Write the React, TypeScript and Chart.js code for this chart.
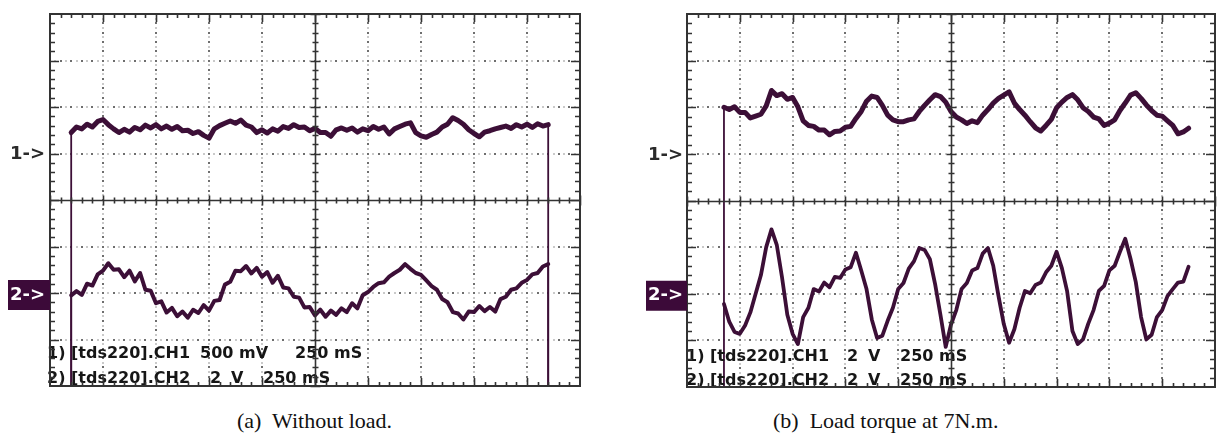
import React, { useEffect, useRef } from 'react';
import { Chart, registerables } from 'chart.js';

Chart.register(...registerables);

// Sampling grid of the traces, in screen divisions
const SAMPLE_STEP = 0.1;
const OFFSCREEN = -4.6; // trace level before trigger / after stop (below screen)

// (a) Without load
const A_START = 0.4;
const A_CH1 = [
  1.45, 1.57, 1.53, 1.63, 1.57, 1.69, 1.73, 1.62, 1.53, 1.45,
  1.52, 1.46, 1.56, 1.51, 1.61, 1.55, 1.62, 1.53, 1.59, 1.52,
  1.58, 1.49, 1.5, 1.43, 1.47, 1.39, 1.33, 1.53, 1.6, 1.65,
  1.7, 1.65, 1.72, 1.61, 1.57, 1.45, 1.51, 1.44, 1.53, 1.48,
  1.58, 1.54, 1.62, 1.56, 1.57, 1.49, 1.54, 1.45, 1.45, 1.37,
  1.51, 1.55, 1.5, 1.55, 1.46, 1.53, 1.49, 1.58, 1.52, 1.57,
  1.42, 1.53, 1.58, 1.63, 1.66, 1.45, 1.38, 1.35, 1.41, 1.46,
  1.57, 1.63, 1.77, 1.71, 1.63, 1.51, 1.43, 1.36, 1.46, 1.49,
  1.53, 1.56, 1.59, 1.54, 1.62, 1.57, 1.63, 1.56, 1.64, 1.59,
  1.62,
];
const A_CH2 = [
  -2.05, -1.96, -2.04, -1.8, -1.84, -1.6, -1.52, -1.36, -1.5, -1.49,
  -1.66, -1.52, -1.75, -1.57, -1.93, -1.95, -2.22, -2.18, -2.42, -2.32,
  -2.5, -2.4, -2.53, -2.36, -2.43, -2.26, -2.38, -2.17, -2.15, -1.82,
  -1.76, -1.52, -1.53, -1.42, -1.58, -1.46, -1.65, -1.55, -1.78, -1.63,
  -1.88, -1.9, -2.08, -2.1, -2.31, -2.3, -2.48, -2.36, -2.51, -2.38,
  -2.47, -2.33, -2.41, -2.22, -2.33, -2.05, -1.98, -1.87, -1.79, -1.77,
  -1.65, -1.57, -1.5, -1.38, -1.48, -1.57, -1.61, -1.73, -1.85, -1.93,
  -2.13, -2.2, -2.41, -2.44, -2.57, -2.4, -2.41, -2.28, -2.39, -2.3,
  -2.4, -2.13, -2.08, -1.93, -1.9, -1.78, -1.72, -1.6, -1.57, -1.43,
  -1.38,
];
const A_TEXT_1 = ['1) [tds220].CH1', '500 mV', '250 mS'];
const A_TEXT_2 = ['2) [tds220].CH2', '2', 'V', '250 mS'];
const A_CAPTION = '(a)  Without load.';

// (b) Load torque at 7N.m.
const B_START = 0.7;
const B_CH1 = [
  2.0, 1.95, 2.01, 1.89, 1.89, 1.77, 1.81, 1.85, 2.03, 2.36,
  2.25, 2.29, 2.17, 2.21, 2.01, 1.71, 1.61, 1.59, 1.51, 1.51,
  1.41, 1.48, 1.49, 1.57, 1.59, 1.76, 1.91, 2.13, 2.24, 2.21,
  2.04, 1.83, 1.73, 1.69, 1.69, 1.73, 1.75, 1.91, 2.04, 2.16,
  2.27, 2.23, 2.11, 1.91, 1.79, 1.73, 1.65, 1.71, 1.67, 1.83,
  1.95, 2.09, 2.19, 2.26, 2.33, 2.09, 1.95, 1.83, 1.69, 1.56,
  1.49, 1.61, 1.74, 1.99, 2.11, 2.21, 2.27, 2.16, 1.99, 1.91,
  1.79, 1.75, 1.61, 1.66, 1.73, 1.93, 2.09, 2.26, 2.31, 2.19,
  2.05, 1.93, 1.83, 1.81, 1.71, 1.61, 1.43, 1.47, 1.55,
];
const B_CH2 = [
  -2.22, -2.6, -2.82, -2.86, -2.68, -2.4, -2.0, -1.6, -1.0, -0.62,
  -0.95, -1.65, -2.45, -2.86, -3.08, -2.5, -2.3, -1.9, -1.95, -1.76,
  -1.86, -1.64, -1.66, -1.48, -1.43, -1.12, -1.5, -1.9, -2.55, -2.95,
  -2.9, -2.58, -2.3, -1.9, -1.77, -1.46, -1.3, -1.02, -1.06, -1.26,
  -1.8, -2.45, -3.14, -2.66, -2.35, -1.9, -1.77, -1.5, -1.45, -1.14,
  -1.02, -1.4, -2.05, -2.65, -3.05, -2.76, -2.3, -1.94, -1.99, -1.81,
  -1.76, -1.54, -1.4, -1.1, -1.45, -1.95, -2.8, -3.08, -2.98, -2.64,
  -2.35, -1.94, -1.83, -1.5, -1.4, -1.1, -0.82, -1.25, -1.75, -2.5,
  -2.98, -2.88, -2.5, -2.35, -2.05, -1.9, -1.76, -1.74, -1.42,
];
const B_TEXT_1 = ['1) [tds220].CH1', '2', 'V', '250 mS'];
const B_TEXT_2 = ['2) [tds220].CH2', '2', 'V', '250 mS'];
const B_CAPTION = '(b)  Load torque at 7N.m.';

const TRACE = '#3c0f37';

type Pt = { x: number; y: number };

function toPoints(start: number, values: number[]): Pt[] {
  return values.map((y, i) => ({ x: Math.round((start + i * SAMPLE_STEP) * 100) / 100, y }));
}

function withEdges(pts: Pt[], rise: boolean, fall: boolean): Pt[] {
  const out = pts.slice();
  if (rise) out.unshift({ x: pts[0].x, y: OFFSCREEN });
  if (fall) out.push({ x: pts[pts.length - 1].x, y: OFFSCREEN });
  return out;
}

const scopeDecor = {
  id: 'scopeDecor',
  beforeDatasetsDraw(chart: any) {
    const { ctx, chartArea: a, scales } = chart;
    const xs = scales.x;
    const ys = scales.y;
    ctx.save();
    ctx.fillStyle = '#ffffff';
    ctx.fillRect(a.left, a.top, a.right - a.left, a.bottom - a.top);
    // dotted graticule lines
    for (let i = 1; i < 10; i++) {
      if (i === 5) continue;
      const px = Math.round(xs.getPixelForValue(i));
      for (let k = 1; k < 80; k++) {
        const py = Math.round(ys.getPixelForValue(-4 + k * 0.1));
        ctx.fillStyle = k % 2 === 0 ? '#6e6e6e' : '#cacaca';
        ctx.fillRect(px - 1, py - 1, 2, 2);
      }
    }
    for (let j = -3; j <= 3; j++) {
      if (j === 0) continue;
      const py = Math.round(ys.getPixelForValue(j));
      for (let k = 1; k < 100; k++) {
        const px = Math.round(xs.getPixelForValue(k * 0.1));
        ctx.fillStyle = k % 2 === 0 ? '#6e6e6e' : '#cacaca';
        ctx.fillRect(px - 1, py - 1, 2, 2);
      }
    }
    ctx.restore();
  },
  afterDatasetsDraw(chart: any, _args: any, opts: any) {
    const { ctx, chartArea: a, scales } = chart;
    const xs = scales.x;
    const ys = scales.y;
    ctx.save();

    // readout text
    ctx.fillStyle = '#161616';
    ctx.font = 'bold 16px "DejaVu Sans"';
    ctx.textBaseline = 'alphabetic';
    ctx.textAlign = 'left';
    (opts.lines || []).forEach((line: any) => {
      line.parts.forEach((p: string, i: number) => {
        ctx.fillText(p, a.left + line.offsets[i], a.bottom + line.dy);
      });
    });

    // center cross with minor ticks
    ctx.strokeStyle = '#333333';
    ctx.lineWidth = 1.6;
    const cx = Math.round(xs.getPixelForValue(5)) + 0.5;
    const cy = Math.round(ys.getPixelForValue(0)) + 0.5;
    ctx.beginPath();
    ctx.moveTo(cx, a.top);
    ctx.lineTo(cx, a.bottom);
    ctx.moveTo(a.left, cy);
    ctx.lineTo(a.right, cy);
    for (let k = 0; k <= 40; k++) {
      const py = Math.round(ys.getPixelForValue(-4 + k * 0.2)) + 0.5;
      const len = k % 5 === 0 ? 5 : 3;
      ctx.moveTo(cx - len, py);
      ctx.lineTo(cx + len, py);
    }
    for (let k = 0; k <= 50; k++) {
      const px = Math.round(xs.getPixelForValue(k * 0.2)) + 0.5;
      const len = k % 5 === 0 ? 5 : 3;
      ctx.moveTo(px, cy - len);
      ctx.lineTo(px, cy + len);
    }
    ctx.stroke();

    // frame with inward ticks
    ctx.beginPath();
    ctx.lineWidth = 2;
    ctx.strokeStyle = '#333333';
    ctx.rect(a.left, a.top, a.right - a.left, a.bottom - a.top);
    ctx.stroke();
    ctx.beginPath();
    ctx.lineWidth = 1.6;
    for (let k = 1; k < 50; k++) {
      const px = Math.round(xs.getPixelForValue(k * 0.2)) + 0.5;
      const len = k % 5 === 0 ? 8 : 4;
      ctx.moveTo(px, a.top);
      ctx.lineTo(px, a.top + len);
      ctx.moveTo(px, a.bottom);
      ctx.lineTo(px, a.bottom - len);
    }
    for (let k = 1; k < 40; k++) {
      const py = Math.round(ys.getPixelForValue(-4 + k * 0.2)) + 0.5;
      const len = k % 5 === 0 ? 9 : 5;
      ctx.moveTo(a.left, py);
      ctx.lineTo(a.left + len, py);
      ctx.moveTo(a.right, py);
      ctx.lineTo(a.right - len, py);
    }
    ctx.stroke();

    // channel ground markers
    const m = opts.marker;
    const y1 = ys.getPixelForValue(1);
    const y2 = ys.getPixelForValue(-2);
    ctx.font = 'bold 18px "DejaVu Sans"';
    ctx.textBaseline = 'middle';
    ctx.fillStyle = '#2a2a2a';
    ctx.fillText('1->', a.left - m.textOff, y1 + 1);
    ctx.fillStyle = '#3c0a39';
    ctx.fillRect(a.left - m.box, y2 - 13, m.box, 30);
    ctx.fillStyle = '#ffffff';
    ctx.fillText('2->', a.left - m.textOff, y2 + 2);
    ctx.restore();
  },
};

type PanelProps = {
  width: number;
  height: number;
  padding: { left: number; right: number; top: number; bottom: number };
  ch1: Pt[];
  ch2: Pt[];
  widths: [number, number];
  lines: { parts: string[]; offsets: number[]; dy: number }[];
  marker: { box: number; textOff: number };
};

function ScopePanel(props: PanelProps) {
  const ref = useRef<HTMLCanvasElement | null>(null);
  useEffect(() => {
    if (!ref.current) return;
    const seg = (w: number) => (c: any) => (Math.abs(c.p0.parsed.x - c.p1.parsed.x) < 1e-6 ? 1.8 : w);
    const mk = (label: string, data: Pt[], w: number) =>
      ({
        label,
        data,
        borderColor: TRACE,
        borderWidth: w,
        borderJoinStyle: 'round',
        borderCapStyle: 'round',
        pointRadius: 0,
        tension: 0,
        segment: { borderWidth: seg(w) },
      } as any);
    const chart = new Chart(ref.current, {
      type: 'line',
      data: {
        datasets: [mk('CH1', props.ch1, props.widths[0]), mk('CH2', props.ch2, props.widths[1])],
      },
      options: {
        responsive: false,
        animation: false,
        events: [],
        layout: { padding: props.padding },
        scales: {
          x: { type: 'linear', min: 0, max: 10, display: false },
          y: { type: 'linear', min: -4, max: 4, display: false },
        },
        plugins: {
          legend: { display: false },
          tooltip: { enabled: false },
          scopeDecor: { lines: props.lines, marker: props.marker },
        } as any,
      },
      plugins: [scopeDecor as any],
    });
    return () => chart.destroy();
  }, []);
  return <canvas ref={ref} width={props.width} height={props.height} style={{ width: props.width, height: props.height, display: 'block' }} />;
}

export default function App() {
  const aCh1 = withEdges(toPoints(A_START, A_CH1), true, true);
  const aCh2 = withEdges(toPoints(A_START, A_CH2), true, true);
  const bCh1 = withEdges(toPoints(B_START, B_CH1), true, false);
  const bCh2 = toPoints(B_START, B_CH2);
  const captionStyle: React.CSSProperties = {
    position: 'absolute',
    top: 408,
    fontFamily: '"Liberation Serif", "DejaVu Serif", serif',
    fontSize: 22,
    lineHeight: '26px',
    color: '#111',
    whiteSpace: 'pre',
  };
  return (
    <div style={{ position: 'fixed', left: 0, top: 0, width: 1225, height: 437, background: '#fff', overflow: 'hidden' }}>
      <div style={{ position: 'absolute', left: 0, top: 0 }}>
        <ScopePanel
          width={612}
          height={400}
          padding={{ left: 50, right: 32, top: 14, bottom: 14 }}
          ch1={aCh1}
          ch2={aCh2}
          widths={[5, 4]}
          lines={[
            { parts: A_TEXT_1, offsets: [-3, 150, 245], dy: -28 },
            { parts: A_TEXT_2, offsets: [-3, 160, 181, 213], dy: -3 },
          ]}
          marker={{ box: 42, textOff: 40 }}
        />
      </div>
      <div style={{ position: 'absolute', left: 612, top: 0 }}>
        <ScopePanel
          width={613}
          height={400}
          padding={{ left: 75, right: 10, top: 14, bottom: 13 }}
          ch1={bCh1}
          ch2={bCh2}
          widths={[5, 3.8]}
          lines={[
            { parts: B_TEXT_1, offsets: [-1, 160, 181, 213], dy: -26 },
            { parts: B_TEXT_2, offsets: [-1, 160, 181, 213], dy: -2 },
          ]}
          marker={{ box: 41, textOff: 39 }}
        />
      </div>
      <div style={{ ...captionStyle, left: 237 }}>{A_CAPTION}</div>
      <div style={{ ...captionStyle, left: 773 }}>{B_CAPTION}</div>
    </div>
  );
}
